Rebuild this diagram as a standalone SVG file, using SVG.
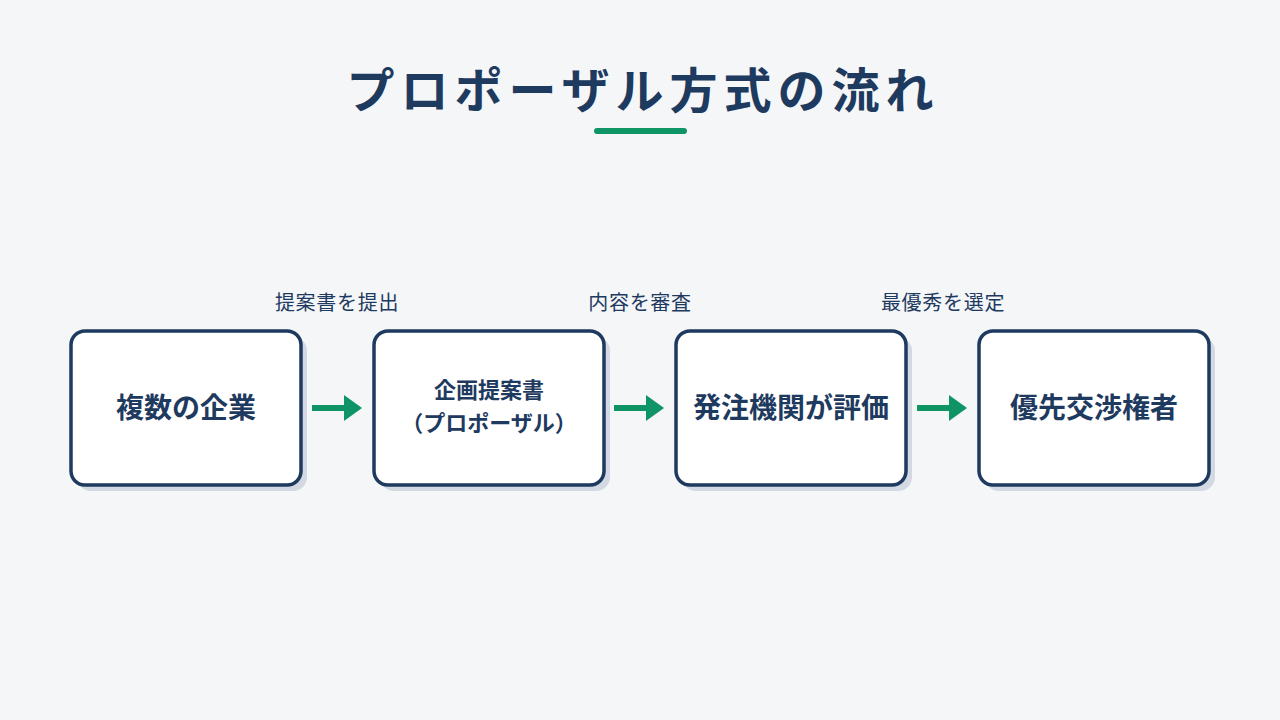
<svg xmlns="http://www.w3.org/2000/svg" width="1280" height="720" viewBox="0 0 1280 720">
<defs>
<style>
.t{font-family:"Noto Sans CJK JP","Noto Sans",sans-serif;fill:#1e3a5f}
.title{font-size:48px;font-weight:700;letter-spacing:6px}
.node{font-size:28px;font-weight:700}
.node2{font-size:22px;font-weight:700}
.lbl{font-size:20px;font-weight:400;letter-spacing:0.7px}
.box{fill:#ffffff;stroke:#1e3a5f;stroke-width:3.5}
.sh{fill:#d3d9e2}
.ar{stroke:#0f9466;stroke-width:6;fill:none}
.ah{fill:#0f9466}
</style>
</defs>
<rect width="1280" height="720" fill="#f4f6f8"/>
<text class="t title" x="643" y="108" text-anchor="middle">プロポーザル方式の流れ</text>
<rect x="594" y="128" width="93" height="6" rx="3" fill="#0f9466"/>
<g id="connectors">
<line class="ar" x1="312" y1="408" x2="346" y2="408"/><polygon class="ah" points="344,395 362,408 344,421"/>
<line class="ar" x1="614" y1="408" x2="648" y2="408"/><polygon class="ah" points="646,395 664,408 646,421"/>
<line class="ar" x1="917" y1="408" x2="951" y2="408"/><polygon class="ah" points="949,395 967,408 949,421"/>
<text class="t lbl" x="337" y="310" text-anchor="middle">提案書を提出</text>
<text class="t lbl" x="640" y="310" text-anchor="middle">内容を審査</text>
<text class="t lbl" x="943" y="310" text-anchor="middle">最優秀を選定</text>
</g>
<g id="n1">
<rect class="sh" x="77" y="337" width="230" height="154" rx="14"/>
<rect class="box" x="71" y="331" width="230" height="154" rx="14"/>
<text class="t node" x="186" y="418" text-anchor="middle">複数の企業</text>
</g>
<g id="n2">
<rect class="sh" x="380" y="337" width="230" height="154" rx="14"/>
<rect class="box" x="374" y="331" width="230" height="154" rx="14"/>
<text class="t node2" x="489" y="398" text-anchor="middle">企画提案書</text>
<text class="t node2" x="489" y="431" text-anchor="middle">（プロポーザル）</text>
</g>
<g id="n3">
<rect class="sh" x="682" y="337" width="230" height="154" rx="14"/>
<rect class="box" x="676" y="331" width="230" height="154" rx="14"/>
<text class="t node" x="791" y="418" text-anchor="middle">発注機関が評価</text>
</g>
<g id="n4">
<rect class="sh" x="985" y="337" width="230" height="154" rx="14"/>
<rect class="box" x="979" y="331" width="230" height="154" rx="14"/>
<text class="t node" x="1094" y="418" text-anchor="middle">優先交渉権者</text>
</g>
</svg>
